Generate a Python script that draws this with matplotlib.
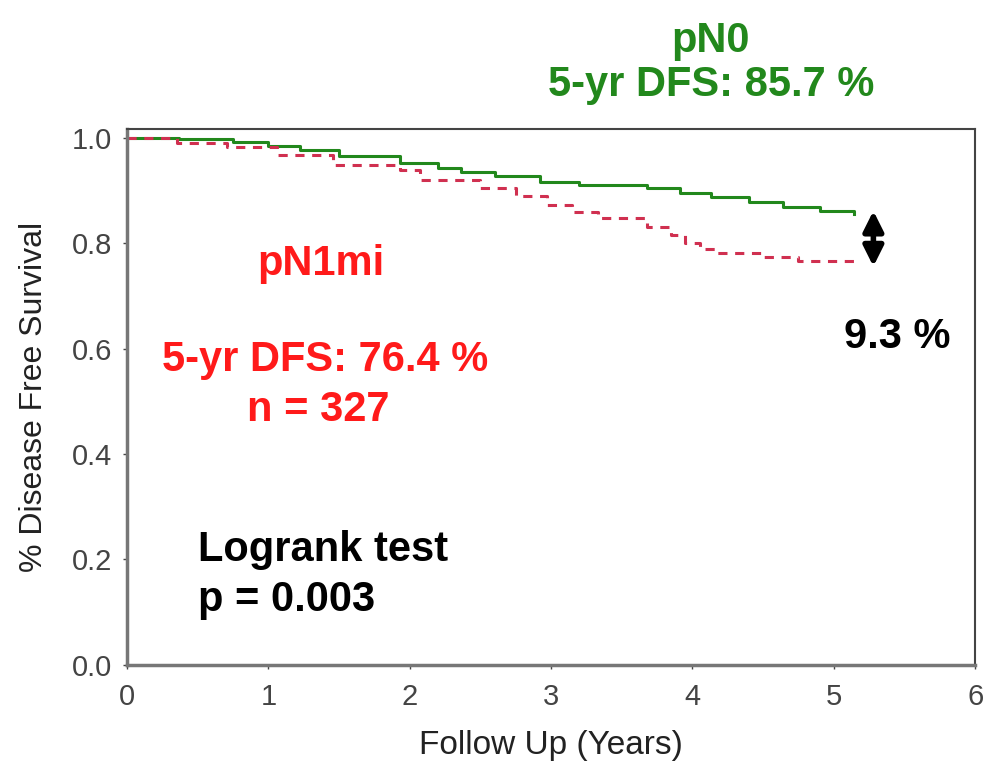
import numpy as np
import matplotlib
matplotlib.use("Agg")
from matplotlib import pyplot as plt

plt.rcParams['font.family'] = ['Liberation Sans', 'DejaVu Sans']

# survival curves
pn0_years = [0, 0.37, 0.75, 1.0, 1.22, 1.5, 1.93, 2.2, 2.36, 2.6, 2.92, 3.2, 3.68, 3.91, 4.13, 4.4, 4.64, 4.9, 5.14]
pn0_surv = [1.0, 0.998, 0.992, 0.985, 0.977, 0.965, 0.952, 0.944, 0.935, 0.927, 0.916, 0.91, 0.905, 0.896, 0.888, 0.878, 0.869, 0.862, 0.856]

pn1mi_years = [0, 0.35, 0.71, 1.06, 1.46, 1.93, 2.07, 2.5, 2.75, 2.97, 3.15, 3.33, 3.68, 3.85, 3.95, 4.05, 4.17, 4.5, 4.75, 5.14]
pn1mi_surv = [1.0, 0.99, 0.983, 0.968, 0.949, 0.939, 0.920, 0.905, 0.89, 0.873, 0.86, 0.848, 0.831, 0.815, 0.80, 0.79, 0.782, 0.775, 0.767, 0.765]

x_ticks = [0, 1, 2, 3, 4, 5, 6]
y_ticks = [0.0, 0.2, 0.4, 0.6, 0.8, 1.0]

green = '#22881c'
red = '#ff1a1a'

fig = plt.figure(figsize=(9.85, 7.73), dpi=100)
ax = fig.add_axes([0.129, 0.140, 0.861, 0.693])

ax.step(pn0_years, pn0_surv, where='post', color=green, lw=2.2)
ax.step(pn1mi_years, pn1mi_surv, where='post', color='#d03050', lw=2.2, ls=(0, (3, 2.5)))

ax.set_xlim(0, 6)
ax.set_ylim(0, 1.017)
ax.set_xticks(x_ticks)
ax.set_yticks(y_ticks)
ax.set_yticklabels(['%.1f' % v for v in y_ticks])
ax.tick_params(labelsize=21, colors='#444444', length=3, width=1)
ax.tick_params(axis='x', pad=10)
ax.tick_params(axis='y', pad=8)
for s in ['left', 'bottom']:
    ax.spines[s].set_color('#777777')
    ax.spines[s].set_linewidth(2.5)
for s in ['top', 'right']:
    ax.spines[s].set_color('#444444')
    ax.spines[s].set_linewidth(1.5)

ax.set_xlabel('Follow Up (Years)', fontsize=24, color='#222222', labelpad=14)
ax.set_ylabel('% Disease Free Survival', fontsize=23, color='#222222', labelpad=16)

bold = dict(fontweight='bold', fontsize=30, ha='center', va='center')
ax.text(4.13, 1.184, 'pN0', color=green, clip_on=False, **bold)
ax.text(4.13, 1.100, '5-yr DFS: 85.7 %', color=green, clip_on=False, **bold)
ax.text(1.37, 0.76, 'pN1mi', color=red, **bold)
ax.text(1.40, 0.579, '5-yr DFS: 76.4 %', color=red, **bold)
ax.text(1.35, 0.484, 'n = 327', color=red, **bold)
ax.text(0.5, 0.218, 'Logrank test', color='black', fontweight='bold', fontsize=30, va='center')
ax.text(0.5, 0.123, 'p = 0.003', color='black', fontweight='bold', fontsize=30, va='center')
ax.text(5.45, 0.622, '9.3 %', color='black', **bold)

ax.annotate('', xy=(5.28, 0.751), xytext=(5.28, 0.867),
            arrowprops=dict(arrowstyle='<|-|>', color='black', lw=4, mutation_scale=30))

fig.savefig('out.png', dpi=100)
